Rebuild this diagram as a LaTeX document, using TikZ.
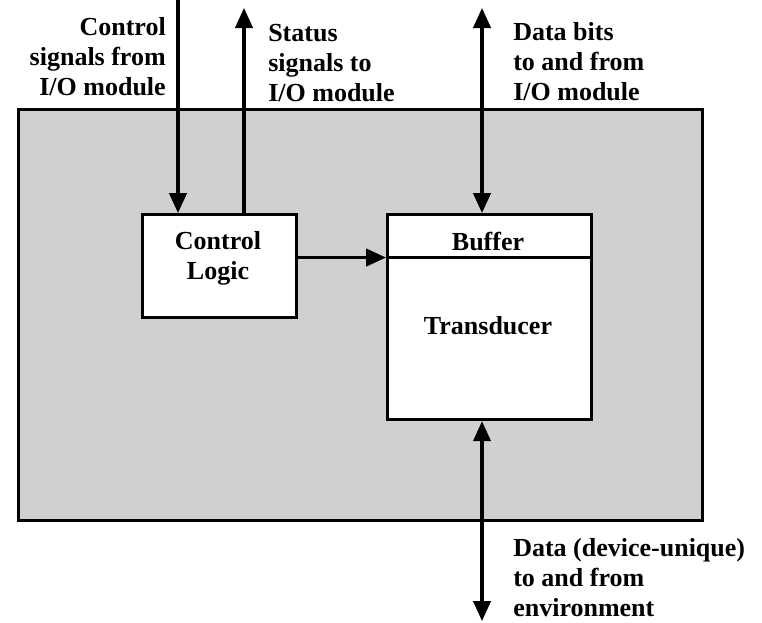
\documentclass[tikz,border=0pt]{standalone}
\usepackage{fontspec}
\setmainfont{Liberation Serif}
\usetikzlibrary{arrows.meta}
\definecolor{boxgray}{RGB}{208,208,208}
\begin{document}
\begin{tikzpicture}[x=0.75pt,y=-0.75pt,
  lbl/.style={inner sep=0pt,font=\fontsize{19.5}{22.5}\selectfont\bfseries},
  blk/.style={draw,line width=2.4pt,fill=white},
  conn/.style={line width=2.4pt,-{Triangle[length=15pt,width=13pt]}},
  conn2/.style={line width=2.4pt,{Triangle[length=15pt,width=13pt]}-{Triangle[length=15pt,width=13pt]}}]
\useasboundingbox (0,0) rectangle (762,622);
% outer device box
\node[draw,line width=2.4pt,fill=boxgray,minimum width=684*0.75pt,minimum height=411*0.75pt,anchor=north west,inner sep=0pt] (dev) at (17,108) {};
% control logic
\node[blk,minimum width=154*0.75pt,minimum height=103*0.75pt,anchor=north west,inner sep=0pt] (cl) at (141,213) {};
\node[lbl,align=center] (cltxt) at (218,258) {Control\\Logic};
% transducer with buffer
\node[blk,minimum width=204*0.75pt,minimum height=205*0.75pt,anchor=north west,inner sep=0pt] (tr) at (386,213) {};
\node[inner sep=0pt,minimum width=204*0.75pt,minimum height=44*0.75pt,anchor=north west] (buf) at (386,213) {};
\draw[line width=2.4pt] (buf.south west) -- (buf.south east);
\node[lbl] (buftxt) at (488,241) {Buffer};
\node[lbl] (trtxt) at (488,326) {Transducer};
% free ends
\coordinate (ctop) at (178,0);
\coordinate (stop) at (244,8);
\coordinate (dtop) at (482,8);
\coordinate (ebot) at (482,621);
% connectors
\draw[conn] (ctop) -- (ctop |- cl.north);
\draw[conn] (stop |- cl.north) -- (stop);
\draw[conn2] (dtop) -- (dtop |- tr.north);
\draw[conn2] (ebot |- tr.south) -- (ebot);
\draw[conn] (cl.east |- buf.south) -- (buf.south west);
% labels
\node[lbl,align=right,anchor=east] (lctl) at (166,57) {Control\\signals from\\I/O module};
\node[lbl,align=left,anchor=west] (lsts) at (268,63) {Status\\signals to\\I/O module};
\node[lbl,align=left,anchor=west] (ldat) at (513,62) {Data bits\\to and from\\I/O module};
\node[lbl,align=left,anchor=west] (lenv) at (513,578) {Data (device-unique)\\to and from\\environment};
\end{tikzpicture}
\end{document}
